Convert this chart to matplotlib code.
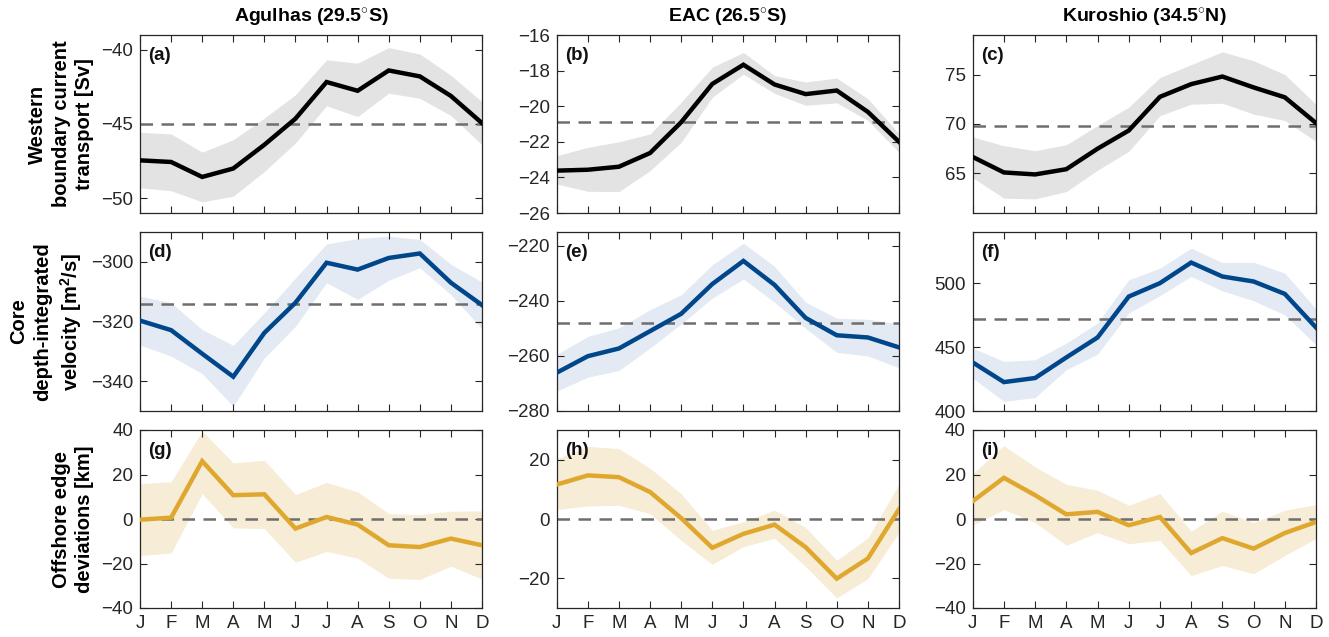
import matplotlib
matplotlib.use("Agg")
import matplotlib.pyplot as plt
import numpy as np

plt.rcParams['font.family'] = ['Liberation Sans', 'DejaVu Sans']
plt.rcParams['mathtext.fontset'] = 'custom'
plt.rcParams['mathtext.rm'] = 'Liberation Sans'
plt.rcParams['mathtext.bf'] = 'Liberation Sans:bold'
plt.rcParams['mathtext.default'] = 'bf'

months = ['J', 'F', 'M', 'A', 'M', 'J', 'J', 'A', 'S', 'O', 'N', 'D']
col_titles = [r'Agulhas (29.5$^{\circ}$S)', r'EAC (26.5$^{\circ}$S)', r'Kuroshio (34.5$^{\circ}$N)']
row_labels = ['Western\nboundary current\ntransport [Sv]',
              'Core\ndepth-integrated\n' + r'velocity [m$^{2}$/s]',
              'Offshore edge\ndeviations [km]']
panel_tags = ['(a)', '(b)', '(c)', '(d)', '(e)', '(f)', '(g)', '(h)', '(i)']

# Row 1: transport [Sv]
agulhas_T = [-47.45, -47.56, -48.57, -48.0, -46.4, -44.64, -42.17, -42.76, -41.39, -41.79, -43.11, -44.94]
agulhas_T_hi = [-45.56, -45.67, -46.9, -46.06, -44.6, -43.03, -40.67, -40.9, -39.85, -40.28, -41.72, -43.5]
agulhas_T_lo = [-49.3, -49.5, -50.25, -49.87, -48.2, -46.28, -43.77, -44.5, -42.92, -43.27, -44.43, -46.4]
eac_T = [-23.62, -23.57, -23.4, -22.63, -20.9, -18.75, -17.67, -18.78, -19.32, -19.12, -20.32, -22.0]
eac_T_hi = [-22.78, -22.31, -22.0, -21.56, -19.78, -17.81, -16.98, -18.28, -18.64, -18.42, -19.58, -21.54]
eac_T_lo = [-24.37, -24.78, -24.8, -23.62, -22.03, -19.5, -18.2, -19.28, -19.95, -19.81, -20.8, -22.6]
kuro_T = [66.67, 65.1, 64.9, 65.43, 67.5, 69.34, 72.75, 74.03, 74.8, 73.7, 72.7, 70.1]
kuro_T_hi = [68.7, 67.8, 67.3, 67.9, 69.84, 71.7, 74.7, 76.0, 77.3, 76.4, 75.0, 72.0]
kuro_T_lo = [64.57, 62.5, 62.43, 63.17, 65.33, 67.24, 70.85, 72.0, 72.1, 71.0, 70.35, 68.24]

# Row 2: core depth-integrated velocity [m2/s]
agulhas_V = [-319.7, -322.9, -330.8, -338.5, -323.8, -313.7, -300.3, -302.6, -298.7, -297.2, -307.0, -314.5]
agulhas_V_hi = [-311.5, -313.7, -322.7, -328.0, -317.1, -305.4, -294.0, -292.2, -291.4, -292.5, -300.8, -306.8]
agulhas_V_lo = [-327.9, -331.6, -337.5, -348.4, -332.2, -321.6, -307.0, -312.6, -306.2, -302.0, -311.0, -322.5]
eac_V = [-266.1, -260.1, -257.3, -251.0, -244.7, -233.9, -225.5, -234.2, -246.2, -252.5, -253.3, -256.9]
eac_V_hi = [-259.5, -252.9, -249.8, -243.2, -237.8, -226.9, -219.1, -227.5, -240.5, -246.3, -246.7, -248.3]
eac_V_lo = [-272.8, -267.7, -265.3, -257.1, -248.4, -239.0, -232.1, -240.5, -250.0, -258.7, -260.0, -264.3]
kuro_V = [438.0, 422.6, 425.8, 441.9, 457.5, 489.5, 500.0, 516.1, 505.2, 501.3, 491.6, 465.3]
kuro_V_hi = [449.2, 438.8, 440.1, 453.1, 468.8, 502.6, 511.7, 527.3, 516.1, 516.4, 507.8, 479.9]
kuro_V_lo = [425.8, 407.5, 410.6, 432.3, 444.5, 476.6, 490.3, 505.2, 494.0, 486.2, 475.2, 451.8]

# Row 3: offshore edge deviations [km]
agulhas_E = [-0.3, 0.6, 26.0, 10.7, 11.1, -4.3, 0.9, -2.5, -11.8, -12.6, -8.8, -11.8]
agulhas_E_hi = [15.9, 16.7, 39.5, 25.2, 26.4, 11.0, 16.4, 12.2, 2.4, 2.0, 3.5, 3.6]
agulhas_E_lo = [-16.4, -15.3, 11.4, -4.0, -4.3, -19.4, -14.6, -17.6, -26.6, -27.2, -21.2, -27.0]
eac_E = [11.6, 14.7, 14.1, 9.1, 0.3, -9.7, -5.0, -1.9, -9.5, -20.1, -13.3, 3.3]
eac_E_hi = [20.3, 24.5, 23.7, 17.1, 8.5, -3.8, -0.9, 3.0, -2.9, -13.9, -6.4, 11.8]
eac_E_lo = [3.2, 4.4, 4.6, 1.8, -7.2, -15.3, -9.3, -6.5, -16.0, -26.6, -20.1, -4.5]
kuro_E = [8.0, 18.5, 10.7, 2.1, 3.2, -2.8, 0.9, -15.3, -8.6, -13.3, -6.3, -1.35]
kuro_E_hi = [20.4, 32.9, 23.4, 15.6, 12.9, 6.2, 11.4, -5.5, 3.5, -1.6, 3.9, 6.5]
kuro_E_lo = [-2.8, 4.2, -1.6, -11.8, -6.1, -11.1, -9.6, -25.4, -20.9, -24.6, -16.4, -8.8]

# Reference (dashed) levels
ref_levels = [-45.0, -20.9, 69.84, -314.1, -248.1, 471.9, 0.0, 0.0, 0.0]

# Axis settings
ylims = [(-51, -39), (-26, -16), (61, 79),
         (-350, -290), (-280, -215), (400, 540),
         (-40, 40), (-30, 30), (-40, 40)]
yticks = [[-50, -45, -40], [-26, -24, -22, -20, -18, -16], [65, 70, 75],
          [-340, -320, -300], [-280, -260, -240, -220], [400, 450, 500],
          [-40, -20, 0, 20, 40], [-20, 0, 20], [-40, -20, 0, 20, 40]]

series = [(agulhas_T, agulhas_T_hi, agulhas_T_lo), (eac_T, eac_T_hi, eac_T_lo), (kuro_T, kuro_T_hi, kuro_T_lo),
          (agulhas_V, agulhas_V_hi, agulhas_V_lo), (eac_V, eac_V_hi, eac_V_lo), (kuro_V, kuro_V_hi, kuro_V_lo),
          (agulhas_E, agulhas_E_hi, agulhas_E_lo), (eac_E, eac_E_hi, eac_E_lo), (kuro_E, kuro_E_hi, kuro_E_lo)]

line_colors = ['#000000', '#00468b', '#e0a72e']
fill_colors = ['#e3e3e3', '#e3eaf3', '#f7ecd5']

fig = plt.figure(figsize=(13.29, 6.37), dpi=100)

W, H = 1329.0, 637.0
col_left = [140, 556.7, 972.7]
col_width = [342, 342.3, 343.3]
row_top = [35, 232, 430]
row_bot = [213, 411, 608]

x = np.arange(1, 13)
axcol = '#262626'
for i in range(3):
    for j in range(3):
        k = i * 3 + j
        ax = fig.add_axes([col_left[j] / W, 1 - row_bot[i] / H,
                           col_width[j] / W, (row_bot[i] - row_top[i]) / H])
        m, hi, lo = series[k]
        ax.fill_between(x, lo, hi, color=fill_colors[i], linewidth=0, zorder=1)
        ax.axhline(ref_levels[k], color='#6e6e6e', linestyle=(0, (5.0, 3.4)), linewidth=1.8, zorder=2)
        ax.plot(x, m, color=line_colors[i], linewidth=3.2, zorder=3, solid_joinstyle='miter')
        ax.set_xlim(1, 12)
        ax.set_ylim(*ylims[k])
        ax.set_yticks(yticks[k])
        ax.set_xticks(x)
        if i == 2:
            ax.set_xticklabels(months)
        else:
            ax.set_xticklabels([])
        ax.tick_params(direction='in', top=True, right=True, length=5, width=0.8,
                       labelsize=13.5, colors=axcol, labelcolor=axcol, pad=5)
        for sp in ax.spines.values():
            sp.set_color(axcol)
            sp.set_linewidth(0.9)
        ax.text(0.024, 0.885, panel_tags[k], transform=ax.transAxes, ha='left', va='center',
                fontsize=13.5, fontweight='bold', color='#111111')
        if i == 0:
            ax.set_title(col_titles[j], fontsize=14, fontweight='bold', pad=9)
        if j == 0:
            ax.set_ylabel(row_labels[i], fontsize=14.5, fontweight='bold', labelpad=5,
                          linespacing=1.3)

fig.savefig('out.png', dpi=100)
